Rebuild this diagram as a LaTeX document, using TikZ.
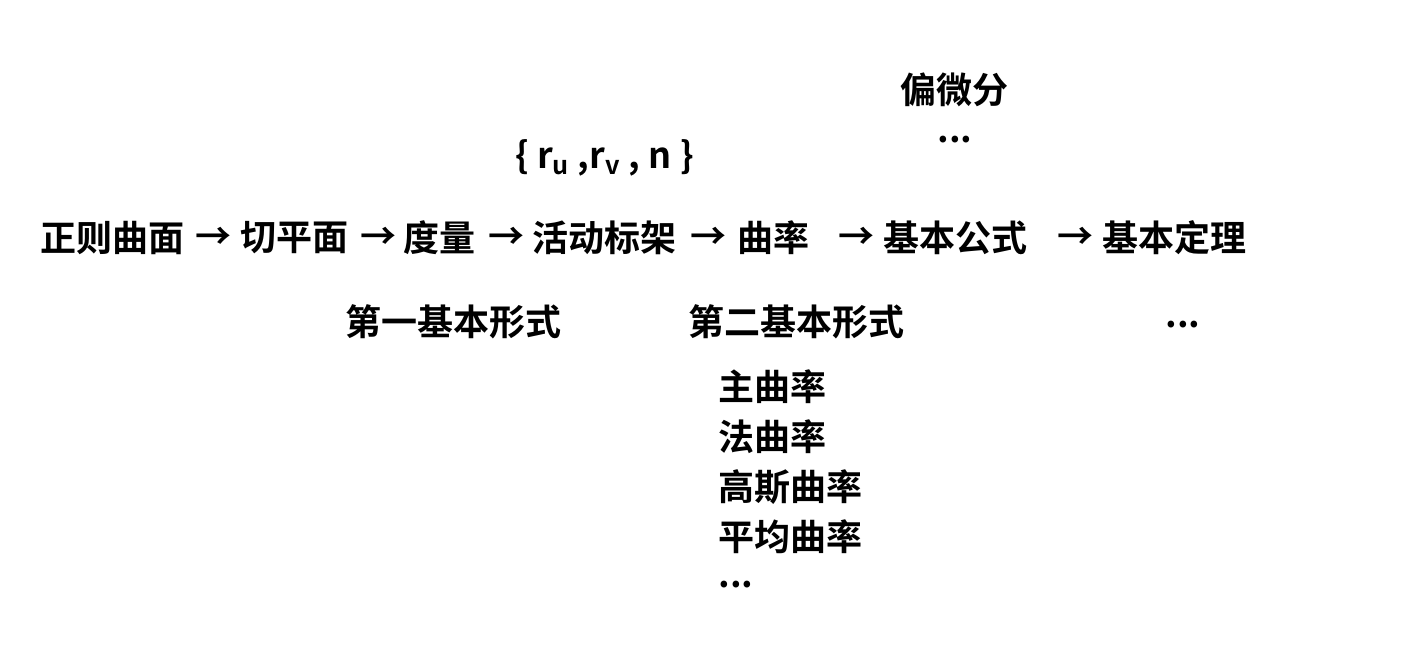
\documentclass[tikz,border=0pt]{standalone}
\usepackage{fontspec}
\setmainfont{Noto Sans CJK SC Bold}
\begin{document}
\begin{tikzpicture}[x=0.02cm,y=-0.02cm,
  t/.style={anchor=west,inner sep=0pt,font=\fontsize{20.5}{24}\selectfont}]
\useasboundingbox (0,0) rectangle (1418,662);
\node[t] (a1) at (40,238) {正则曲面};
\node[t] (r1) at (195,238) {→};
\node[t] (a2) at (240,238) {切平面};
\node[t] (r2) at (360,238) {→};
\node[t] (a3) at (403,238) {度量};
\node[t] (r3) at (488,238) {→};
\node[t] (a4) at (532,238) {活动标架};
\node[t] (r4) at (690,238) {→};
\node[t] (a5) at (737,238) {曲率};
\node[t] (r5) at (838,238) {→};
\node[t] (a6) at (883,238) {基本公式};
\node[t] (r6) at (1057,238) {→};
\node[t] (a7) at (1102,238) {基本定理};
\node[t] (b1) at (900,90) {偏微分};
\node[t] (b2) at (937,140) {...};
\node[t] (c1) at (515,158) {\{ r\textsubscript{u} ,r\textsubscript{v} , n \}};
\node[t] (d1) at (345,322) {第一基本形式};
\node[t] (d2) at (688,322) {第二基本形式};
\node[t] (d3) at (1165,325) {...};
\node[t] (e1) at (718,387) {主曲率};
\node[t] (e2) at (718,437) {法曲率};
\node[t] (e3) at (718,487) {高斯曲率};
\node[t] (e4) at (718,537) {平均曲率};
\node[t] (e5) at (718,585) {...};
\end{tikzpicture}
\end{document}
